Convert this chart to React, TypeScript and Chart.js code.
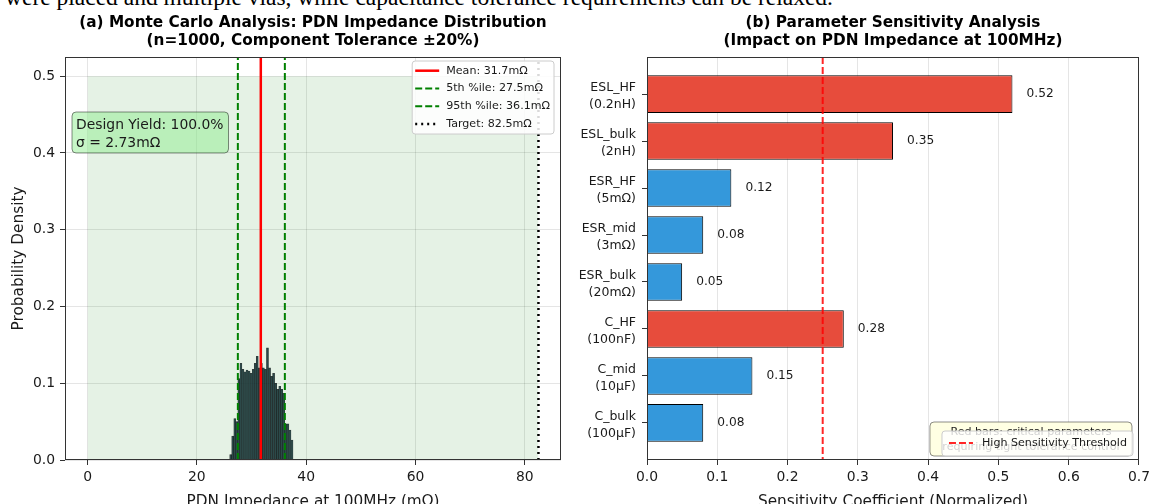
import React, { useEffect, useRef } from "react";
import { Chart, registerables } from "chart.js";

Chart.register(...registerables);

const SANS = "'DejaVu Sans', 'Noto Sans', sans-serif";
const TEXT = "#1a1a1a";
const FRAME = "#333333";

const introText =
  "were placed and multiple vias, while capacitance tolerance requirements can be relaxed.";

// ---------- Panel (a): Monte Carlo histogram ----------
const titleA = [
  "(a) Monte Carlo Analysis: PDN Impedance Distribution",
  "(n=1000, Component Tolerance ±20%)",
];
const xTitleA = "PDN Impedance at 100MHz (mΩ)";
const yTitleA = "Probability Density";
const binCenters = [
  26.19, 26.56, 26.94, 27.31, 27.68, 28.06, 28.43, 28.81, 29.18, 29.56, 29.93,
  30.3, 30.68, 31.05, 31.43, 31.8, 32.17, 32.55, 32.92, 33.3, 33.67, 34.04,
  34.42, 34.79, 35.17, 35.54, 35.91, 36.29, 36.66, 37.04, 37.41,
];
const binDensity = [
  0.007, 0.031, 0.054, 0.05, 0.106, 0.126, 0.118, 0.115, 0.117, 0.116, 0.113,
  0.118, 0.126, 0.135, 0.12, 0.126, 0.12, 0.118, 0.146, 0.12, 0.109, 0.113,
  0.1, 0.092, 0.096, 0.092, 0.087, 0.047, 0.047, 0.039, 0.026,
];
const meanValue = 31.7;
const p5Value = 27.5;
const p95Value = 36.1;
const targetValue = 82.5;
const passBandTop = 0.5;
const sigmaValue = 2.73;
const yieldPercent = 100.0;
const xTicksA = [0, 20, 40, 60, 80];
const yTicksA = [0, 0.1, 0.2, 0.3, 0.4, 0.5];
const xRangeA = [-4.125, 86.625];
const yRangeA = [0, 0.525];

// ---------- Panel (b): sensitivity bars ----------
const titleB = [
  "(b) Parameter Sensitivity Analysis",
  "(Impact on PDN Impedance at 100MHz)",
];
const xTitleB = "Sensitivity Coefficient (Normalized)";
const paramNames = ["ESL_HF", "ESL_bulk", "ESR_HF", "ESR_mid", "ESR_bulk", "C_HF", "C_mid", "C_bulk"];
const paramSpecs = ["(0.2nH)", "(2nH)", "(5mΩ)", "(3mΩ)", "(20mΩ)", "(100nF)", "(10μF)", "(100μF)"];
const sensitivity = [0.52, 0.35, 0.12, 0.08, 0.05, 0.28, 0.15, 0.08];
const critical = [true, true, false, false, false, true, false, false];
const thresholdValue = 0.25;
const xTicksB = [0, 0.1, 0.2, 0.3, 0.4, 0.5, 0.6, 0.7];
const xRangeB = [0, 0.7];
const yRangeB = [-0.79, 7.79];
const noteLines = ["Red bars: critical parameters", "requiring tight tolerance control"];
const thresholdLabel = "High Sensitivity Threshold";

const RED = "#e74c3c";
const BLUE = "#3498db";

function roundedRect(ctx: CanvasRenderingContext2D, x: number, y: number, w: number, h: number, r: number) {
  ctx.beginPath();
  ctx.moveTo(x + r, y);
  ctx.lineTo(x + w - r, y);
  ctx.arcTo(x + w, y, x + w, y + r, r);
  ctx.lineTo(x + w, y + h - r);
  ctx.arcTo(x + w, y + h, x + w - r, y + h, r);
  ctx.lineTo(x + r, y + h);
  ctx.arcTo(x, y + h, x, y + h - r, r);
  ctx.lineTo(x, y + r);
  ctx.arcTo(x, y, x + r, y, r);
  ctx.closePath();
}

function drawFrame(chart: any) {
  const { ctx, chartArea: a } = chart;
  ctx.save();
  ctx.strokeStyle = FRAME;
  ctx.lineWidth = 1;
  const l = Math.round(a.left) + 0.5;
  const t = Math.round(a.top) + 0.5;
  const r = Math.round(a.right) - 0.5;
  const b = Math.round(a.bottom) - 0.5;
  ctx.strokeRect(l, t, r - l, b - t);
  ctx.restore();
}

function drawTitles(chart: any, lines: string[], xTitle: string, yTitle: string | null) {
  const { ctx, chartArea: a } = chart;
  const cx = (a.left + a.right) / 2;
  ctx.save();
  ctx.fillStyle = "#000";
  ctx.textAlign = "center";
  ctx.textBaseline = "alphabetic";
  ctx.font = `bold 15.3px ${SANS}`;
  lines.forEach((s, i) => ctx.fillText(s, cx, 27 + i * 18.4));
  ctx.fillStyle = TEXT;
  ctx.font = `15.3px ${SANS}`;
  ctx.fillText(xTitle, cx, 506);
  if (yTitle) {
    ctx.translate(19, (a.top + a.bottom) / 2);
    ctx.rotate(-Math.PI / 2);
    ctx.textBaseline = "middle";
    ctx.fillText(yTitle, 0, 0);
  }
  ctx.restore();
}

function vline(value: number, color: string, width: number, dash: number[], y0: number, y1: number) {
  return {
    type: "line" as const,
    data: [
      { x: value, y: y0 },
      { x: value, y: y1 },
    ],
    borderColor: color,
    borderWidth: width,
    borderDash: dash,
    borderCapStyle: "butt" as const,
    pointRadius: 0,
    fill: false,
    order: 1,
  };
}

const legendA = [
  { label: `Mean: ${meanValue}mΩ`, color: "#ff0000", width: 2.5, dash: [] as number[] },
  { label: `5th %ile: ${p5Value}mΩ`, color: "#008000", width: 2, dash: [7, 3] },
  { label: `95th %ile: ${p95Value}mΩ`, color: "#008000", width: 2, dash: [7, 3] },
  { label: `Target: ${targetValue}mΩ`, color: "#000000", width: 2.5, dash: [2, 4] },
];

function makeLeft(canvas: HTMLCanvasElement) {
  const overlay = {
    id: "overlayA",
    afterDatasetsDraw(chart: any) {
      drawFrame(chart);
    },
    afterDraw(chart: any) {
      const { ctx, chartArea: a } = chart;
      drawTitles(chart, titleA, xTitleA, yTitleA);
      ctx.save();
      // legend
      ctx.font = `11.1px ${SANS}`;
      const maxW = Math.max(...legendA.map((e) => ctx.measureText(e.label).width));
      const w = 34 + maxW + 4;
      const h = 73;
      const bx = a.right - 7 - w;
      const by = a.top + 4;
      roundedRect(ctx, bx, by, w, h, 3);
      ctx.fillStyle = "rgba(255,255,255,0.85)";
      ctx.fill();
      ctx.strokeStyle = "#cccccc";
      ctx.lineWidth = 1;
      ctx.stroke();
      legendA.forEach((e, i) => {
        const y = by + 9.7 + i * 17.8;
        ctx.beginPath();
        ctx.setLineDash(e.dash);
        ctx.strokeStyle = e.color;
        ctx.lineWidth = e.width;
        ctx.moveTo(bx + 3, y);
        ctx.lineTo(bx + 27, y);
        ctx.stroke();
        ctx.setLineDash([]);
        ctx.fillStyle = TEXT;
        ctx.textAlign = "left";
        ctx.textBaseline = "middle";
        ctx.fillText(e.label, bx + 34, y);
      });
      // yield annotation
      const lines = [`Design Yield: ${yieldPercent.toFixed(1)}%`, `σ = ${sigmaValue}mΩ`];
      ctx.font = `13.9px ${SANS}`;
      const tw = Math.max(...lines.map((s) => ctx.measureText(s).width));
      const ax = a.left + 7;
      const ay = a.top + 55;
      roundedRect(ctx, ax, ay, tw + 9, 41, 4);
      ctx.fillStyle = "rgba(144,238,144,0.5)";
      ctx.fill();
      ctx.strokeStyle = "rgba(0,0,0,0.45)";
      ctx.lineWidth = 1;
      ctx.stroke();
      ctx.fillStyle = TEXT;
      ctx.textAlign = "left";
      ctx.textBaseline = "alphabetic";
      lines.forEach((s, i) => ctx.fillText(s, ax + 4, ay + 17 + i * 17.6));
      ctx.restore();
    },
  };

  return new Chart(canvas, {
    type: "bar",
    data: {
      datasets: [
        {
          type: "line",
          data: [
            { x: 0, y: passBandTop },
            { x: targetValue, y: passBandTop },
          ],
          borderWidth: 0,
          pointRadius: 0,
          fill: "origin",
          backgroundColor: "rgba(0,128,0,0.1)",
          order: 10,
        } as any,
        {
          type: "bar",
          data: binCenters.map((c, i) => ({ x: c, y: binDensity[i] })),
          backgroundColor: "rgba(32,66,66,0.88)",
          borderColor: "rgba(0,0,0,0.75)",
          borderWidth: 0.5,
          barPercentage: 1,
          categoryPercentage: 1,
          order: 5,
        } as any,
        vline(meanValue, "#ff0000", 2.5, [], yRangeA[0], yRangeA[1]),
        vline(p5Value, "#008000", 2, [7, 3], yRangeA[0], yRangeA[1]),
        vline(p95Value, "#008000", 2, [7, 3], yRangeA[0], yRangeA[1]),
        vline(targetValue, "#000000", 2.5, [2, 4], yRangeA[0], yRangeA[1]),
      ],
    },
    options: {
      responsive: false,
      animation: false,
      events: [],
      layout: { padding: { top: 57, right: 16, left: 0, bottom: 0 } },
      plugins: { legend: { display: false }, tooltip: { enabled: false }, title: { display: false } },
      scales: {
        x: {
          type: "linear",
          position: "bottom",
          min: xRangeA[0],
          max: xRangeA[1],
          offset: false,
          afterBuildTicks: (s: any) => {
            s.ticks = xTicksA.map((v) => ({ value: v }));
          },
          afterFit: (s: any) => {
            s.height = 44;
          },
          ticks: {
            font: { family: SANS, size: 13.9 },
            color: TEXT,
            padding: 4,
            maxRotation: 0,
            autoSkip: false,
            callback: (v: any) => String(v),
          },
          grid: { color: "rgba(0,0,0,0.1)", tickColor: FRAME, tickLength: 5, offset: false },
          border: { display: false },
        },
        y: {
          type: "linear",
          min: yRangeA[0],
          max: yRangeA[1],
          afterBuildTicks: (s: any) => {
            s.ticks = yTicksA.map((v) => ({ value: v }));
          },
          afterFit: (s: any) => {
            s.width = 65;
          },
          ticks: {
            font: { family: SANS, size: 13.9 },
            color: TEXT,
            padding: 5,
            autoSkip: false,
            callback: (v: any) => Number(v).toFixed(1),
          },
          grid: { color: "rgba(0,0,0,0.1)", tickColor: FRAME, tickLength: 5 },
          border: { display: false },
        },
      },
    } as any,
    plugins: [overlay],
  });
}

function makeRight(canvas: HTMLCanvasElement) {
  const overlay = {
    id: "overlayB",
    afterDatasetsDraw(chart: any) {
      drawFrame(chart);
      const { ctx } = chart;
      const xs = chart.scales.x;
      const ys = chart.scales.y;
      ctx.save();
      ctx.font = `12.2px ${SANS}`;
      ctx.fillStyle = TEXT;
      ctx.textAlign = "left";
      ctx.textBaseline = "middle";
      sensitivity.forEach((v, i) => {
        ctx.fillText(v.toFixed(2), xs.getPixelForValue(v + 0.02), ys.getPixelForValue(i));
      });
      ctx.restore();
    },
    afterDraw(chart: any) {
      const { ctx, chartArea: a } = chart;
      drawTitles(chart, titleB, xTitleB, null);
      ctx.save();
      // note box
      const nw = 202;
      const nx = a.right - 7 - nw;
      const ny = a.bottom - 38;
      roundedRect(ctx, nx, ny, nw, 34, 4);
      ctx.fillStyle = "rgba(255,255,224,0.9)";
      ctx.fill();
      ctx.strokeStyle = "rgba(0,0,0,0.45)";
      ctx.lineWidth = 1;
      ctx.stroke();
      ctx.font = `11.1px ${SANS}`;
      ctx.fillStyle = TEXT;
      ctx.textAlign = "center";
      ctx.textBaseline = "alphabetic";
      noteLines.forEach((s, i) => ctx.fillText(s, nx + nw / 2, ny + 13 + i * 14.5));
      // legend
      const tw = ctx.measureText(thresholdLabel).width;
      const lw = 40 + tw + 6;
      const lx = a.right - 6 - lw;
      const ly = a.bottom - 29;
      roundedRect(ctx, lx, ly, lw, 25, 3);
      ctx.fillStyle = "rgba(255,255,255,0.8)";
      ctx.fill();
      ctx.strokeStyle = "#cccccc";
      ctx.stroke();
      ctx.beginPath();
      ctx.setLineDash([7, 3]);
      ctx.strokeStyle = "rgba(255,0,0,0.85)";
      ctx.lineWidth = 2;
      ctx.moveTo(lx + 7, ly + 12);
      ctx.lineTo(lx + 31, ly + 12);
      ctx.stroke();
      ctx.setLineDash([]);
      ctx.fillStyle = TEXT;
      ctx.textAlign = "left";
      ctx.textBaseline = "middle";
      ctx.fillText(thresholdLabel, lx + 40, ly + 12);
      ctx.restore();
    },
  };

  return new Chart(canvas, {
    type: "bar",
    data: {
      datasets: [
        {
          type: "bar",
          data: sensitivity.map((v, i) => ({ x: v, y: i })),
          backgroundColor: critical.map((c) => (c ? RED : BLUE)),
          borderColor: "#000000",
          borderWidth: 1,
          barPercentage: 0.8,
          categoryPercentage: 1,
          order: 5,
        } as any,
        {
          ...vline(thresholdValue, "rgba(255,0,0,0.85)", 2, [7, 3], yRangeB[0], yRangeB[1]),
        } as any,
      ],
    },
    options: {
      indexAxis: "y",
      responsive: false,
      animation: false,
      events: [],
      layout: { padding: { top: 57, right: 11, left: 0, bottom: 0 } },
      plugins: { legend: { display: false }, tooltip: { enabled: false }, title: { display: false } },
      scales: {
        x: {
          type: "linear",
          position: "bottom",
          min: xRangeB[0],
          max: xRangeB[1],
          offset: false,
          afterBuildTicks: (s: any) => {
            s.ticks = xTicksB.map((v) => ({ value: v }));
          },
          afterFit: (s: any) => {
            s.height = 44;
          },
          ticks: {
            font: { family: SANS, size: 13.9 },
            color: TEXT,
            padding: 4,
            maxRotation: 0,
            autoSkip: false,
            callback: (v: any) => Number(v).toFixed(1),
          },
          grid: { color: "rgba(0,0,0,0.1)", tickColor: FRAME, tickLength: 5, offset: false },
          border: { display: false },
        },
        y: {
          type: "linear",
          reverse: true,
          min: yRangeB[0],
          max: yRangeB[1],
          offset: false,
          afterBuildTicks: (s: any) => {
            s.ticks = paramNames.map((_, i) => ({ value: i }));
          },
          afterFit: (s: any) => {
            s.width = 70;
          },
          ticks: {
            font: { family: SANS, size: 12.5, lineHeight: 1.35 },
            color: TEXT,
            padding: 6,
            labelOffset: 2,
            autoSkip: false,
            callback: (v: any) => [paramNames[v], paramSpecs[v]],
          },
          grid: { drawOnChartArea: false, tickColor: FRAME, tickLength: 5, offset: false },
          border: { display: false },
        },
      },
    } as any,
    plugins: [overlay],
  });
}

export default function App() {
  const leftRef = useRef<HTMLCanvasElement>(null);
  const rightRef = useRef<HTMLCanvasElement>(null);

  useEffect(() => {
    const a = makeLeft(leftRef.current!);
    const b = makeRight(rightRef.current!);
    return () => {
      a.destroy();
      b.destroy();
    };
  }, []);

  return (
    <div
      style={{
        position: "absolute",
        left: 0,
        top: 0,
        width: 1154,
        height: 504,
        overflow: "hidden",
        background: "#ffffff",
      }}
    >
      <div
        style={{
          position: "absolute",
          left: 5,
          top: -15,
          whiteSpace: "nowrap",
          fontFamily: "'Liberation Serif', 'DejaVu Serif', serif",
          fontSize: 23.5,
          lineHeight: "24px",
          color: "#000",
        }}
      >
        {introText}
      </div>
      <canvas
        ref={leftRef}
        width={577}
        height={504}
        style={{ position: "absolute", left: 0, top: 0, width: 577, height: 504 }}
      />
      <canvas
        ref={rightRef}
        width={577}
        height={504}
        style={{ position: "absolute", left: 577, top: 0, width: 577, height: 504 }}
      />
    </div>
  );
}
